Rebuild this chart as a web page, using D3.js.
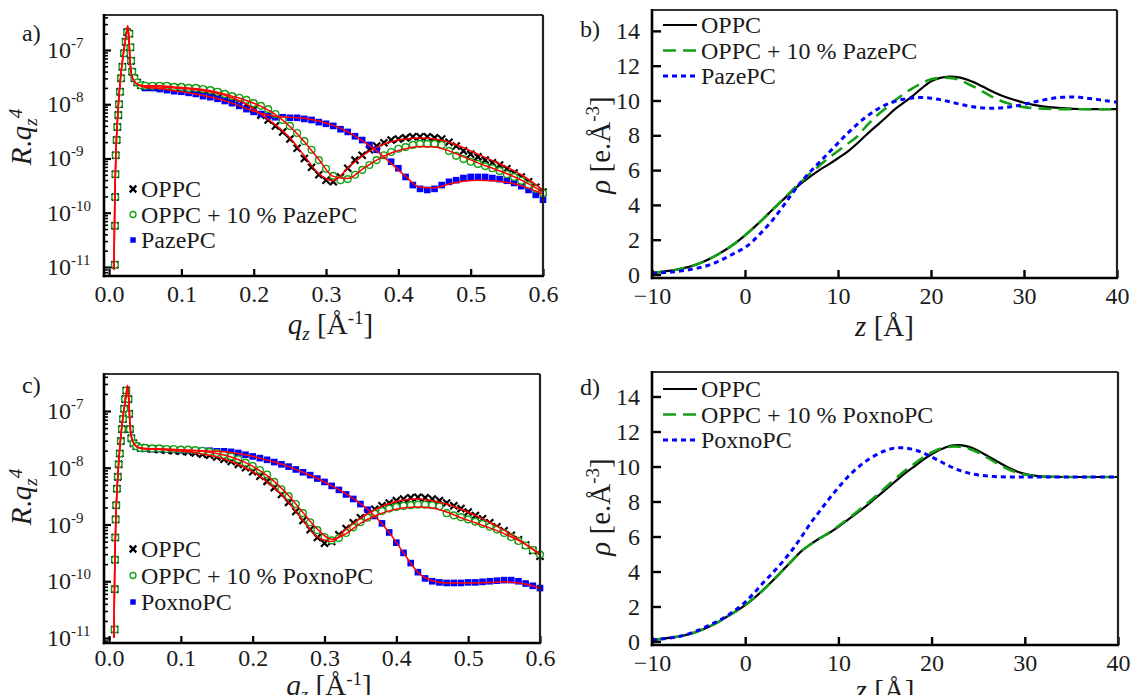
<!DOCTYPE html>
<html>
<head>
<meta charset="utf-8">
<script src="https://cdn.jsdelivr.net/npm/d3@7"></script>
<style>
  html, body { margin: 0; padding: 0; background: #fff; }
  svg { display: block; font-family: "Liberation Serif", "Times New Roman", serif; }
</style>
</head>
<body>
<script>
// ---------------- Reflectivity data (log10 of R·qz^4) ----------------
// Critical-edge points, panel a
const qEdgeA   = [0.0080, 0.0082, 0.0085, 0.0088, 0.0092, 0.0105, 0.0115, 0.0128, 0.0138, 0.0152, 0.0166,
                  0.0184, 0.0207, 0.0230, 0.0250, 0.0280, 0.0295, 0.0305, 0.0320, 0.0350, 0.0390, 0.0440];
const logEdgeA = [-10.96, -10.24, -9.71, -9.29, -8.94, -8.66, -8.42, -8.20, -8.00, -7.77, -7.52,
                  -7.31, -7.06, -6.85, -6.67, -6.70, -6.95, -7.20, -7.40, -7.52, -7.60, -7.65];
// Critical-edge points, panel c
const qEdgeC   = [0.0078, 0.0080, 0.0083, 0.0087, 0.0092, 0.0100, 0.0110, 0.0122, 0.0135, 0.0150, 0.0165, 0.0180,
                  0.0195, 0.0210, 0.0225, 0.0240, 0.0270, 0.0280, 0.0290, 0.0310, 0.0340, 0.0380, 0.0440];
const logEdgeC = [-10.85, -10.14, -9.62, -9.23, -8.91, -8.66, -8.37, -8.16, -7.94, -7.75, -7.53, -7.32,
                  -7.14, -6.96, -6.79, -6.64, -6.79, -7.05, -7.32, -7.48, -7.57, -7.62, -7.65];

// Measured points above the edge
const qGrid = [0.05, 0.06, 0.07, 0.08, 0.09, 0.10, 0.11, 0.12, 0.13, 0.14, 0.15, 0.16, 0.17, 0.18, 0.19,
               0.20, 0.21, 0.22, 0.23, 0.24, 0.25, 0.26, 0.27, 0.28, 0.29, 0.30, 0.31, 0.32, 0.33, 0.34,
               0.35, 0.36, 0.37, 0.38, 0.39, 0.40, 0.41, 0.42, 0.43, 0.44, 0.45, 0.46, 0.47, 0.48, 0.49,
               0.50, 0.51, 0.52, 0.53, 0.54, 0.55, 0.56, 0.57, 0.58, 0.59, 0.60];

const logOppcA = [-7.68, -7.68, -7.68, -7.68, -7.70, -7.70, -7.72, -7.72, -7.74, -7.76, -7.79, -7.83, -7.87, -7.92, -8.00,
                  -8.09, -8.20, -8.29, -8.40, -8.51, -8.64, -8.81, -9.00, -9.16, -9.30, -9.40, -9.43, -9.34, -9.18, -9.03,
                  -8.94, -8.84, -8.77, -8.71, -8.66, -8.64, -8.62, -8.60, -8.60, -8.60, -8.62, -8.64, -8.70, -8.77, -8.86,
                  -8.92, -8.97, -9.03, -9.08, -9.12, -9.19, -9.27, -9.34, -9.43, -9.53, -9.62];
const logMixPazeA = [-7.66, -7.66, -7.66, -7.66, -7.68, -7.68, -7.70, -7.70, -7.72, -7.74, -7.77, -7.81, -7.85, -7.88, -7.92,
                     -7.98, -8.03, -8.09, -8.18, -8.29, -8.40, -8.53, -8.68, -8.84, -9.03, -9.19, -9.32, -9.40, -9.38, -9.30,
                     -9.21, -9.12, -9.03, -8.94, -8.88, -8.82, -8.79, -8.75, -8.73, -8.73, -8.73, -8.75, -8.86, -8.95, -9.01,
                     -9.06, -9.10, -9.14, -9.18, -9.23, -9.29, -9.34, -9.41, -9.49, -9.56, -9.64];
const logPazeA = [-7.70, -7.70, -7.72, -7.74, -7.76, -7.77, -7.79, -7.81, -7.85, -7.87, -7.90, -7.94, -7.98, -8.03, -8.09,
                  -8.14, -8.18, -8.22, -8.24, -8.24, -8.25, -8.25, -8.27, -8.29, -8.33, -8.36, -8.40, -8.46, -8.51, -8.59,
                  -8.66, -8.75, -8.84, -8.95, -9.06, -9.18, -9.34, -9.49, -9.56, -9.58, -9.56, -9.49, -9.43, -9.40, -9.36,
                  -9.34, -9.34, -9.34, -9.36, -9.38, -9.41, -9.45, -9.51, -9.58, -9.67, -9.76];

const logOppcC = [-7.66, -7.67, -7.68, -7.69, -7.70, -7.71, -7.72, -7.74, -7.76, -7.78, -7.81, -7.85, -7.89, -7.94, -8.00,
                  -8.07, -8.15, -8.24, -8.35, -8.47, -8.61, -8.77, -8.93, -9.09, -9.23, -9.33, -9.30, -9.18, -9.07, -8.97,
                  -8.88, -8.80, -8.73, -8.67, -8.62, -8.58, -8.55, -8.53, -8.52, -8.53, -8.55, -8.58, -8.62, -8.67, -8.72,
                  -8.78, -8.84, -8.90, -8.97, -9.04, -9.11, -9.19, -9.27, -9.36, -9.46, -9.56];
const logMixPoxC = [-7.65, -7.66, -7.66, -7.67, -7.67, -7.68, -7.68, -7.69, -7.70, -7.72, -7.74, -7.77, -7.80, -7.85, -7.91,
                    -7.97, -8.04, -8.12, -8.25, -8.38, -8.50, -8.64, -8.80, -8.96, -9.10, -9.22, -9.28, -9.24, -9.15, -9.05,
                    -8.96, -8.88, -8.81, -8.76, -8.72, -8.69, -8.67, -8.66, -8.65, -8.65, -8.66, -8.68, -8.80, -8.84, -8.87,
                    -8.91, -8.95, -8.99, -9.04, -9.09, -9.15, -9.22, -9.29, -9.37, -9.45, -9.53];
const logPoxC = [-7.66, -7.67, -7.67, -7.68, -7.68, -7.69, -7.69, -7.70, -7.70, -7.70, -7.71, -7.71, -7.72, -7.74, -7.77,
                 -7.80, -7.83, -7.86, -7.90, -7.94, -7.98, -8.03, -8.08, -8.13, -8.19, -8.25, -8.32, -8.39, -8.47, -8.55,
                 -8.64, -8.74, -8.85, -8.98, -9.14, -9.32, -9.50, -9.68, -9.84, -9.95, -10.00, -10.02, -10.03, -10.03, -10.03,
                 -10.02, -10.02, -10.01, -10.00, -9.99, -9.98, -9.98, -10.00, -10.04, -10.08, -10.12];

// Model fits (red curves)
const qFitEdge    = [0.0068, 0.0078, 0.0095, 0.0120, 0.0160, 0.0200, 0.0240, 0.0258, 0.0275, 0.0290, 0.0310, 0.0350, 0.0400];
const logFitEdgeA = [-11.05, -9.90, -8.90, -8.20, -7.50, -7.05, -6.70, -6.56, -6.80, -7.20, -7.45, -7.58, -7.64];
const logFitEdgeC = [-11.00, -9.90, -8.90, -8.20, -7.50, -7.05, -6.70, -6.55, -6.80, -7.20, -7.45, -7.58, -7.64];
const qFitGrid = [0.05, 0.07, 0.09, 0.11, 0.13, 0.15, 0.17, 0.19, 0.21, 0.23, 0.25, 0.27, 0.29, 0.31, 0.33,
                  0.35, 0.37, 0.39, 0.41, 0.43, 0.45, 0.47, 0.49, 0.51, 0.53, 0.55, 0.57, 0.59, 0.60];
const fitOppcA    = [-7.67, -7.68, -7.70, -7.72, -7.75, -7.80, -7.88, -8.00, -8.18, -8.38, -8.62, -8.95, -9.28, -9.41, -9.18,
                     -8.95, -8.79, -8.69, -8.64, -8.62, -8.64, -8.70, -8.80, -8.92, -9.04, -9.16, -9.30, -9.48, -9.58];
const fitMixPazeA = [-7.66, -7.66, -7.68, -7.70, -7.73, -7.78, -7.85, -7.93, -8.04, -8.19, -8.41, -8.69, -9.02, -9.33, -9.37,
                     -9.20, -9.03, -8.90, -8.82, -8.78, -8.79, -8.86, -8.97, -9.08, -9.18, -9.28, -9.40, -9.54, -9.62];
const fitPazeA    = [-7.69, -7.71, -7.75, -7.79, -7.84, -7.90, -7.98, -8.08, -8.17, -8.22, -8.24, -8.26, -8.31, -8.39, -8.51,
                     -8.67, -8.86, -9.09, -9.33, -9.53, -9.54, -9.47, -9.42, -9.40, -9.41, -9.44, -9.50, -9.60, -9.66];
const fitOppcC    = [-7.67, -7.68, -7.70, -7.72, -7.76, -7.81, -7.89, -8.00, -8.15, -8.35, -8.61, -8.93, -9.22, -9.30, -9.08,
                     -8.89, -8.74, -8.63, -8.57, -8.55, -8.58, -8.64, -8.73, -8.84, -8.96, -9.10, -9.26, -9.44, -9.54];
const fitMixPoxC  = [-7.66, -7.67, -7.68, -7.69, -7.71, -7.75, -7.81, -7.91, -8.05, -8.24, -8.49, -8.79, -9.08, -9.26, -9.16,
                     -8.98, -8.85, -8.76, -8.71, -8.69, -8.71, -8.78, -8.88, -8.97, -9.06, -9.16, -9.28, -9.43, -9.52];
const fitPoxC     = [-7.66, -7.67, -7.68, -7.69, -7.70, -7.71, -7.73, -7.77, -7.83, -7.90, -7.98, -8.08, -8.19, -8.32, -8.46,
                     -8.63, -8.85, -9.14, -9.50, -9.84, -9.99, -10.03, -10.03, -10.03, -10.02, -10.01, -10.03, -10.08, -10.12];

// ---------------- Electron density profiles ----------------
const zGrid = [-10, -9, -8, -7, -6, -5, -4, -3, -2, -1, 0, 1, 2, 3, 4, 5, 6, 7, 8, 9, 10, 11, 12, 13, 14, 15, 16,
               17, 18, 19, 20, 21, 22, 23, 24, 25, 26, 27, 28, 29, 30, 31, 32, 33, 34, 35, 36, 37, 38, 39, 40];
const rhoOppcB = [0.10, 0.15, 0.22, 0.32, 0.45, 0.62, 0.85, 1.13, 1.45, 1.82, 2.25, 2.72, 3.22, 3.75, 4.25, 4.75, 5.22,
                  5.63, 6.00, 6.33, 6.68, 7.05, 7.50, 8.00, 8.48, 8.95, 9.45, 9.85, 10.25, 10.70, 11.10, 11.30, 11.37,
                  11.33, 11.18, 10.95, 10.68, 10.42, 10.20, 10.03, 9.87, 9.75, 9.66, 9.60, 9.56, 9.53, 9.51, 9.50, 9.50, 9.50, 9.50];
const rhoMixPazeB = [0.10, 0.15, 0.22, 0.32, 0.45, 0.62, 0.85, 1.13, 1.45, 1.82, 2.25, 2.72, 3.22, 3.75, 4.27, 4.80, 5.30,
                     5.80, 6.25, 6.70, 7.10, 7.50, 7.90, 8.50, 9.05, 9.50, 9.95, 10.35, 10.70, 11.00, 11.22, 11.30, 11.30,
                     11.20, 10.95, 10.68, 10.38, 10.10, 9.88, 9.72, 9.62, 9.56, 9.53, 9.51, 9.50, 9.50, 9.50, 9.50, 9.50, 9.50, 9.50];
const rhoPazeB = [0.08, 0.10, 0.14, 0.20, 0.28, 0.38, 0.52, 0.72, 0.98, 1.26, 1.55, 2.00, 2.55, 3.15, 3.85, 4.60, 5.30,
                  5.90, 6.45, 7.00, 7.55, 8.10, 8.60, 9.05, 9.42, 9.72, 9.93, 10.07, 10.15, 10.17, 10.13, 10.05, 9.93,
                  9.80, 9.68, 9.60, 9.56, 9.56, 9.60, 9.68, 9.78, 9.90, 10.02, 10.12, 10.18, 10.20, 10.18, 10.12, 10.05, 9.97, 9.90];
const rhoOppcD = [0.10, 0.15, 0.22, 0.30, 0.42, 0.60, 0.82, 1.08, 1.40, 1.72, 2.08, 2.50, 2.98, 3.50, 4.05, 4.60, 5.15,
                  5.55, 5.90, 6.20, 6.55, 6.95, 7.35, 7.75, 8.20, 8.65, 9.10, 9.55, 9.95, 10.35, 10.70, 10.98, 11.18,
                  11.22, 11.12, 10.90, 10.60, 10.30, 10.00, 9.75, 9.58, 9.48, 9.43, 9.41, 9.40, 9.40, 9.40, 9.40, 9.40, 9.40, 9.40];
const rhoMixPoxD = [0.10, 0.15, 0.22, 0.30, 0.42, 0.60, 0.82, 1.08, 1.40, 1.72, 2.08, 2.50, 2.98, 3.50, 4.05, 4.60, 5.15,
                    5.55, 5.90, 6.22, 6.60, 7.00, 7.42, 7.85, 8.30, 8.77, 9.25, 9.70, 10.10, 10.48, 10.80, 11.03, 11.13,
                    11.13, 11.02, 10.80, 10.50, 10.18, 9.90, 9.68, 9.54, 9.46, 9.42, 9.41, 9.40, 9.40, 9.40, 9.40, 9.40, 9.40, 9.40];
const rhoPoxD = [0.10, 0.14, 0.20, 0.30, 0.45, 0.65, 0.90, 1.15, 1.45, 1.82, 2.25, 2.80, 3.40, 3.95, 4.55, 5.20, 5.95,
                 6.75, 7.45, 8.15, 8.80, 9.40, 9.90, 10.32, 10.65, 10.90, 11.05, 11.07, 10.98, 10.80, 10.55, 10.27, 10.00,
                 9.78, 9.62, 9.52, 9.46, 9.42, 9.40, 9.40, 9.40, 9.40, 9.40, 9.40, 9.40, 9.40, 9.40, 9.40, 9.40, 9.40, 9.40];

// ---------------- Ticks and labels ----------------
const qTicks = [0, 0.1, 0.2, 0.3, 0.4, 0.5, 0.6];
const decadeExps = [-11, -10, -9, -8, -7];
const zTicks = [-10, 0, 10, 20, 30, 40];
const rhoTicks = [0, 2, 4, 6, 8, 10, 12, 14];
const legendPaze = ["OPPC", "OPPC + 10 % PazePC", "PazePC"];
const legendPox  = ["OPPC", "OPPC + 10 % PoxnoPC", "PoxnoPC"];

// ---------------- Styling ----------------
const INK = "#1b1b1b";
const RED = "#ff0000", GREEN = "#14a014", BLUE = "#0000ff";
const FS = 24, FS_SUP = 15, FS_TITLE = 29, FS_TSUP = 19;

const svg = d3.select("body").append("svg").attr("width", 1133).attr("height", 695);

function addText(g, x, y, parts, opts = {}) {
  const t = g.append("text").attr("x", x).attr("y", y).attr("fill", INK)
    .attr("font-size", opts.size || FS).attr("text-anchor", opts.anchor || "start");
  if (opts.transform) t.attr("transform", opts.transform);
  parts.forEach(p => {
    const s = t.append("tspan").text(p.t);
    if (p.italic) s.attr("font-style", "italic");
    if (p.size) s.attr("font-size", p.size);
    if (p.dy) s.attr("dy", p.dy);
  });
  return t;
}

function frameLines(g, L, R, T, B) {
  g.append("line").attr("x1", L).attr("x2", R).attr("y1", T).attr("y2", T).attr("stroke", "#333").attr("stroke-width", 2);
  g.append("line").attr("x1", R).attr("x2", R).attr("y1", T).attr("y2", B).attr("stroke", "#222").attr("stroke-width", 2.2);
  g.append("line").attr("x1", L).attr("x2", L).attr("y1", T - 1).attr("y2", B + 1.2).attr("stroke", "#000").attr("stroke-width", 2.6);
  g.append("line").attr("x1", L - 1.2).attr("x2", R + 1).attr("y1", B).attr("y2", B).attr("stroke", "#000").attr("stroke-width", 2.6);
}

function styleTicks(sel, w) {
  sel.select(".domain").remove();
  sel.selectAll(".tick line").attr("stroke", "#000").attr("stroke-width", w);
}

// ---------------- Reflectivity panel ----------------
function reflectivityPanel(cfg) {
  const { L, R, T, B } = cfg.frame;
  const g = svg.append("g");
  const x = d3.scaleLinear().domain([-0.007, 0.6]).range([L, R]);
  const y = d3.scaleLog().domain([Math.pow(10, cfg.logMin), Math.pow(10, cfg.logMax)]).range([B, T]);

  const pts = (qs, logs) => qs.map((q, i) => [x(q), y(Math.pow(10, logs[i]))]);
  const series = cfg.series.map(s => pts(cfg.qEdge.concat(qGrid), cfg.logEdge.concat(s)));
  const fits = cfg.fits.map(f => pts(qFitEdge.concat(qFitGrid), cfg.fitEdge.concat(f)));

  // OPPC: black crosses
  g.append("g").selectAll("path").data(series[0]).join("path")
    .attr("transform", d => `translate(${d[0]},${d[1]})`)
    .attr("d", d3.symbol(d3.symbolX, 34)())
    .attr("stroke", "#000").attr("stroke-width", 2.2).attr("fill", "none");
  // pure oxidised lipid: blue squares
  g.append("g").selectAll("path").data(series[2]).join("path")
    .attr("transform", d => `translate(${d[0]},${d[1]})`)
    .attr("d", d3.symbol(d3.symbolSquare, 44)())
    .attr("fill", BLUE);
  // mixture: open green circles
  g.append("g").selectAll("circle").data(series[1]).join("circle")
    .attr("cx", d => d[0]).attr("cy", d => d[1]).attr("r", 3.4)
    .attr("fill", "#fff").attr("stroke", GREEN).attr("stroke-width", 1.4);

  const line = d3.line().curve(d3.curveMonotoneX);
  fits.forEach(f => g.append("path").attr("d", line(f)).attr("fill", "none")
    .attr("stroke", RED).attr("stroke-width", 1.5));

  // axes
  const major = decadeExps.map(e => Math.pow(10, e));
  const minor = [];
  for (let e = -12; e <= -7; e++) for (let m = 2; m <= 9; m++) {
    const v = m * Math.pow(10, e);
    if (Math.log10(v) > cfg.logMin && Math.log10(v) < cfg.logMax) minor.push(v);
  }
  g.append("g").attr("transform", `translate(${L},0)`)
    .call(d3.axisLeft(y).tickValues(minor).tickSize(-4).tickSizeOuter(0).tickFormat(""))
    .call(s => styleTicks(s, 1.6));
  g.append("g").attr("transform", `translate(${L},0)`)
    .call(d3.axisLeft(y).tickValues(major).tickSize(-7).tickSizeOuter(0).tickFormat(""))
    .call(s => styleTicks(s, 2.2));
  decadeExps.forEach(e => addText(g, 47, y(Math.pow(10, e)) + 8,
    [{ t: "10" }, { t: String(e), size: FS_SUP, dy: -10 }]));

  const xa = g.append("g").attr("transform", `translate(0,${B})`)
    .call(d3.axisBottom(x).tickValues(qTicks).tickSize(-7).tickSizeOuter(0).tickPadding(cfg.xPad).tickFormat(d3.format(".1f")));
  styleTicks(xa, 2.2);
  xa.selectAll("text").attr("font-size", FS).attr("fill", INK);
  xa.attr("font-family", null);

  frameLines(g, L, R, T, B);

  // titles
  addText(g, (L + R) / 2 + 7, cfg.xTitleY, [
    { t: "q", italic: true }, { t: "z", italic: true, size: FS_TSUP, dy: 6 },
    { t: " [Å", dy: -6 }, { t: "-1", size: FS_TSUP, dy: -10 }, { t: "]", dy: 10 }
  ], { size: FS_TITLE, anchor: "middle" });
  addText(g, 0, 0, [
    { t: "R", italic: true }, { t: "." }, { t: "q", italic: true },
    { t: "z", italic: true, size: FS_TSUP, dy: 6 }, { t: "4", italic: true, size: FS_TSUP, dy: -15 }
  ], { size: FS_TITLE, anchor: "middle", transform: `translate(31,${cfg.titleY}) rotate(-90)` });
  addText(g, 22, cfg.labelY, [{ t: cfg.label }], { size: FS });

  // legend
  const lg = g.append("g");
  cfg.legend.forEach((name, i) => {
    const ly = cfg.legendY + i * cfg.legendGap;
    if (i === 0) lg.append("path").attr("transform", `translate(133,${ly})`)
      .attr("d", d3.symbol(d3.symbolX, 30)()).attr("stroke", "#000").attr("stroke-width", 2.4);
    if (i === 1) lg.append("circle").attr("cx", 133).attr("cy", ly).attr("r", 3)
      .attr("fill", "#fff").attr("stroke", GREEN).attr("stroke-width", 1.3);
    if (i === 2) lg.append("path").attr("transform", `translate(133,${ly})`)
      .attr("d", d3.symbol(d3.symbolSquare, 30)()).attr("fill", BLUE);
    addText(lg, 141, ly + 8, [{ t: name }]);
  });
}

// ---------------- Density panel ----------------
function densityPanel(cfg) {
  const { L, R, T, B } = cfg.frame;
  const g = svg.append("g");
  const x = d3.scaleLinear().domain([-10, 40]).range([L, R]);
  const y = d3.scaleLinear().domain([-0.2, cfg.rhoMax]).range([B, T]);
  const line = d3.line().x((d, i) => x(zGrid[i])).y(d => y(d)).curve(d3.curveCatmullRom);
  const styles = [
    { c: "#000", w: 2.2, dash: null },
    { c: GREEN, w: 2.6, dash: "13,7" },
    { c: BLUE, w: 3, dash: "5,4" }
  ];
  cfg.series.forEach((s, i) => g.append("path").attr("d", line(s)).attr("fill", "none")
    .attr("stroke", styles[i].c).attr("stroke-width", styles[i].w)
    .attr("stroke-dasharray", styles[i].dash));

  const ya = g.append("g").attr("transform", `translate(${L},0)`)
    .call(d3.axisLeft(y).tickValues(rhoTicks).tickSize(-9).tickSizeOuter(0).tickPadding(12));
  styleTicks(ya, 2.4);
  ya.attr("font-family", null);
  ya.selectAll("text").attr("font-size", FS).attr("fill", INK);
  const xa = g.append("g").attr("transform", `translate(0,${B})`)
    .call(d3.axisBottom(x).tickValues(zTicks).tickSize(-8).tickSizeOuter(0).tickPadding(cfg.xPad));
  styleTicks(xa, 2.4);
  xa.attr("font-family", null);
  xa.selectAll("text").attr("font-size", FS).attr("fill", INK);

  frameLines(g, L, R, T, B);

  addText(g, (L + R) / 2, cfg.xTitleY, [{ t: "z", italic: true }, { t: " [Å]" }], { size: FS_TITLE, anchor: "middle" });
  addText(g, 0, 0, [
    { t: "ρ", italic: true }, { t: " [e.Å" }, { t: "-3", size: FS_TSUP, dy: -11 }, { t: "]", dy: 11 }
  ], { size: FS_TITLE, anchor: "middle", transform: `translate(610,${cfg.titleY}) rotate(-90)` });
  addText(g, 580, cfg.labelY, [{ t: cfg.label }], { size: FS });

  cfg.legend.forEach((name, i) => {
    const ly = cfg.legendY + i * 25.5;
    g.append("line").attr("x1", 663).attr("x2", 697).attr("y1", ly).attr("y2", ly)
      .attr("stroke", styles[i].c).attr("stroke-width", styles[i].w)
      .attr("stroke-dasharray", styles[i].dash);
    addText(g, 701, ly + 8, [{ t: name }]);
  });
}

reflectivityPanel({
  frame: { L: 104, R: 543, T: 15, B: 276 }, logMin: -11.166, logMax: -6.355,
  qEdge: qEdgeA, logEdge: logEdgeA, fitEdge: logFitEdgeA,
  series: [logOppcA, logMixPazeA, logPazeA], fits: [fitOppcA, fitMixPazeA, fitPazeA],
  legend: legendPaze, legendY: 189, legendGap: 25.5, titleY: 137, xTitleY: 334, xPad: 9, label: "a)", labelY: 41
});
reflectivityPanel({
  frame: { L: 104, R: 540, T: 374, B: 643 }, logMin: -11.088, logMax: -6.348,
  qEdge: qEdgeC, logEdge: logEdgeC, fitEdge: logFitEdgeC,
  series: [logOppcC, logMixPoxC, logPoxC], fits: [fitOppcC, fitMixPoxC, fitPoxC],
  legend: legendPox, legendY: 549, legendGap: 26.5, titleY: 497, xTitleY: 695, xPad: 6, label: "c)", labelY: 393
});
densityPanel({
  frame: { L: 652, R: 1117, T: 10, B: 278 }, rhoMax: 15.2,
  series: [rhoOppcB, rhoMixPazeB, rhoPazeB], legend: legendPaze,
  legendY: 25, titleY: 145, xTitleY: 336, xPad: 9, label: "b)", labelY: 37
});
densityPanel({
  frame: { L: 652, R: 1118, T: 372, B: 645 }, rhoMax: 15.4,
  series: [rhoOppcD, rhoMixPoxD, rhoPoxD], legend: legendPox,
  legendY: 389, titleY: 507, xTitleY: 700, xPad: 9, label: "d)", labelY: 395
});
</script>
</body>
</html>
